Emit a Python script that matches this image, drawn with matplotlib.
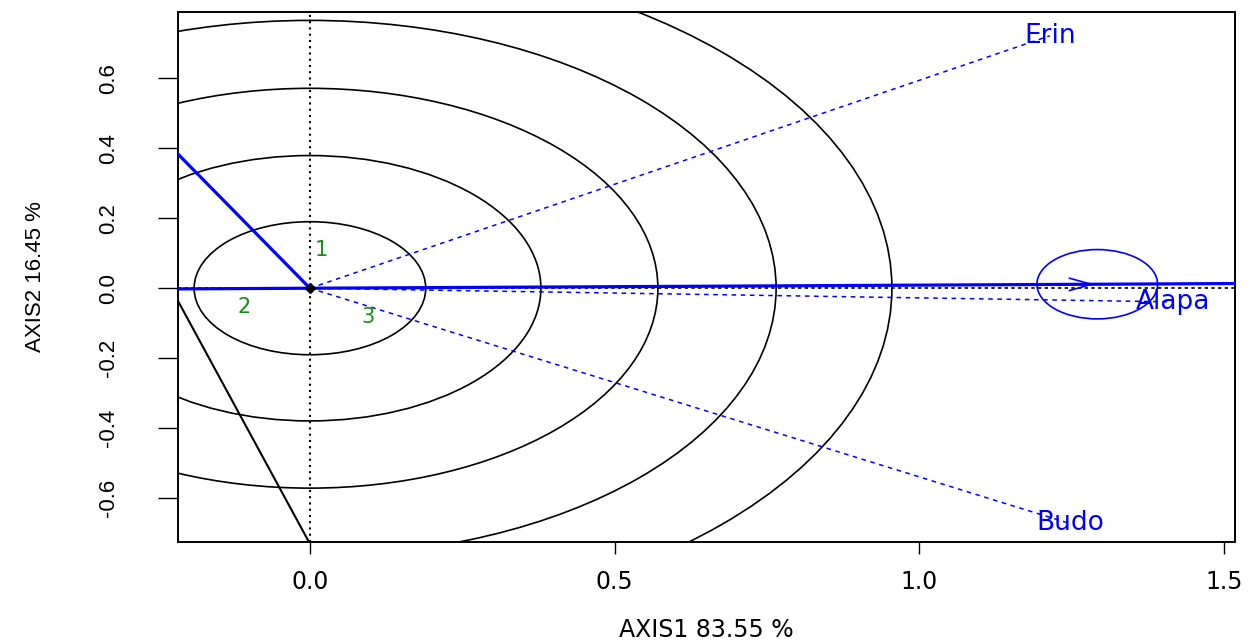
import numpy as np
import matplotlib.pyplot as plt
from matplotlib.patches import Circle, FancyArrowPatch

# environment vectors (blue, dotted from origin)
env_names = ['Erin', 'Alapa', 'Budo']
env_x = [1.214, 1.416, 1.247]
env_y = [0.721, -0.039, -0.672]

# genotype markers (green numbers)
gen_names = ['1', '2', '3']
gen_x = [0.019, -0.108, 0.095]
gen_y = [0.109, -0.053, -0.082]

# average environment point and its small circle
avg_x, avg_y = 1.292, 0.0114
avg_r = 0.099

# concentric circles centred on the origin
radii = [0.190, 0.379, 0.571, 0.765, 0.955]

# extra lines
blue_line_x = [0.0, -0.217]
blue_line_y = [0.0, 0.384]
black_line_x = [-0.216, 0.0]
black_line_y = [-0.038, -0.73]

xticks = [0.0, 0.5, 1.0, 1.5]
xtick_labels = ['0.0', '0.5', '1.0', '1.5']
yticks = [-0.6, -0.4, -0.2, 0.0, 0.2, 0.4, 0.6]
ytick_labels = ['-0.6', '-0.4', '-0.2', '0.0', '0.2', '0.4', '0.6']

W, H = 1252, 643
fig = plt.figure(figsize=(W / 100, H / 100), dpi=100)
ax = fig.add_axes([178.3 / W, 1 - 541.7 / H, (1235 - 178.3) / W, (541.7 - 12) / H])
ax.set_xlim(-0.216, 1.518)
ax.set_ylim(-0.724, 0.789)

# circles (ellipses because the aspect is free)
for r in radii:
    ax.add_patch(Circle((0, 0), r, fill=False, ec='black', lw=1.2, zorder=2))

# reference axes through the origin
ax.axvline(0, color='black', ls=(0, (1, 2)), lw=1.5, zorder=2)
ax.axhline(0, color='black', ls=(0, (2, 2)), lw=1.2, zorder=2)

# black line at lower left
ax.plot(black_line_x, black_line_y, color='black', lw=1.5, zorder=3)

# environment vectors
for name, x, y in zip(env_names, env_x, env_y):
    ax.plot([0, x], [0, y], color='blue', ls=(0, (3, 3)), lw=1.1, zorder=3)
    ax.text(x, y, name, color='blue', fontsize=19, family='DejaVu Sans',
            ha='center', va='center', zorder=5)

# average environment axis and the second blue line
ax.axline((0, 0), (avg_x, avg_y), color='blue', lw=2.3, zorder=4)
ax.plot(blue_line_x, blue_line_y, color='blue', lw=2.3, zorder=4)
ax.add_patch(Circle((avg_x, avg_y), avg_r, fill=False, ec='blue', lw=1.2, zorder=4))
ax.add_patch(FancyArrowPatch((avg_x - 0.3, avg_y - 0.3 * avg_y / avg_x), (avg_x, avg_y),
                             arrowstyle='->,head_length=1.6,head_width=0.45',
                             mutation_scale=10, color='blue', lw=1.2, zorder=4))

# genotypes
for name, x, y in zip(gen_names, gen_x, gen_y):
    ax.text(x, y, name, color='#1a8c1a', fontsize=15, family='DejaVu Sans',
            ha='center', va='center', zorder=5)

ax.plot([0], [0], marker='D', color='black', ms=5, zorder=6)

# axes styling
for sp in ax.spines.values():
    sp.set_linewidth(1.4)
ax.set_xticks(xticks)
ax.set_xticklabels(xtick_labels, family='DejaVu Sans', fontsize=17)
ax.set_yticks(yticks)
ax.set_yticklabels(ytick_labels, family='Liberation Sans', fontsize=16,
                   rotation=90, va='center')
ax.tick_params(axis='x', length=8.6, width=1, pad=12)
ax.tick_params(axis='y', length=14.4, width=1, pad=28)

fig.text(706 / W, 1 - 630 / H, 'AXIS1 83.55 %', family='DejaVu Sans', fontsize=17,
         ha='center', va='center')
fig.text(36 / W, 1 - 277 / H, 'AXIS2 16.45 %', family='Liberation Sans', fontsize=16,
         rotation=90, ha='center', va='center')

fig.savefig('out.png', dpi=100)
